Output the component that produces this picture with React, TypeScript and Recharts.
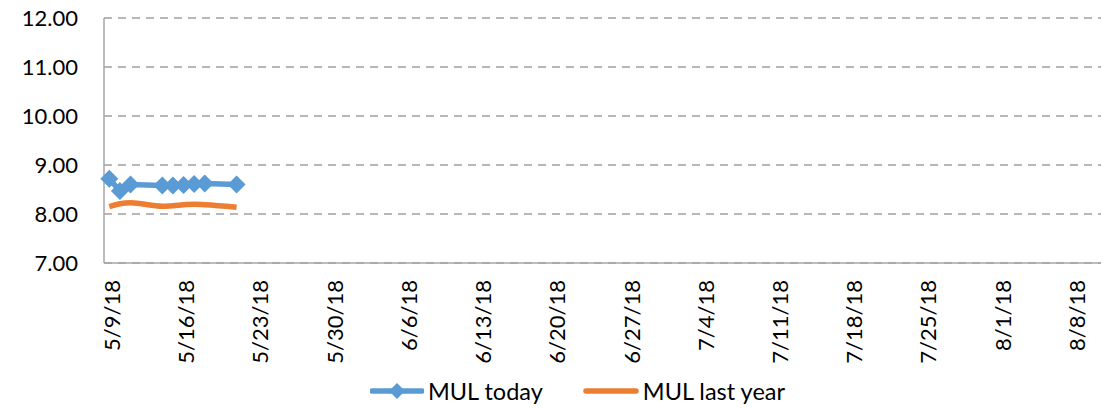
import { CartesianGrid, Legend, Line, LineChart, XAxis, YAxis } from "recharts";

const dates = ["5/9/18", "5/10/18", "5/11/18", "5/14/18", "5/15/18", "5/16/18", "5/17/18", "5/18/18", "5/21/18"];
const mulToday = [8.72, 8.47, 8.6, 8.58, 8.58, 8.59, 8.61, 8.62, 8.6];
const mulLastYear = [8.15, 8.21, 8.23, 8.16, 8.17, 8.19, 8.2, 8.19, 8.14];
const tickLabels = ["5/9/18", "5/16/18", "5/23/18", "5/30/18", "6/6/18", "6/13/18", "6/20/18", "6/27/18", "7/4/18", "7/11/18", "7/18/18", "7/25/18", "8/1/18", "8/8/18"];
const yTicks = [7, 8, 9, 10, 11, 12];

const BLUE = "#5B9BD5";
const ORANGE = "#ED7D31";
const FONT = "Lato, 'Open Sans', sans-serif";

// days since the first date, so the x axis behaves like Excel's date axis
const dayOf = (s: string) => {
  const [m, d, y] = s.split("/").map(Number);
  return Date.UTC(2000 + y, m - 1, d) / 86400000;
};
const start = dayOf(dates[0]);
const data = dates.map((d, i) => ({ day: dayOf(d) - start, today: mulToday[i], lastYear: mulLastYear[i] }));
const tickDays = tickLabels.map((l) => dayOf(l) - start);
const labelByDay: Record<number, string> = {};
tickDays.forEach((d, i) => (labelByDay[d] = tickLabels[i]));

const diamond = (cx: number, cy: number, r: number, key?: string | number) => (
  <polygon key={key} points={`${cx},${cy - r} ${cx + r},${cy} ${cx},${cy + r} ${cx - r},${cy}`} fill={BLUE} />
);

const renderDot = (p: any) => {
  if (p.cx == null || p.cy == null) return <g key={p.index} />;
  return diamond(p.cx, p.cy, 9, p.index);
};

const DateTick = ({ x, y, payload }: any) => (
  <text x={x + 2} y={y} transform={`rotate(-90 ${x + 2} ${y})`} textAnchor="end" dominantBaseline="central" fontSize={22} fontFamily={FONT} fill="#000">
    {labelByDay[payload.value]}
  </text>
);

const LegendBox = () => (
  <div style={{ display: "flex", alignItems: "center", height: 36, paddingLeft: 370, fontFamily: FONT, fontSize: 23.5, color: "#000" }}>
    <svg width={54} height={20}>
      <line x1={2} y1={10} x2={52} y2={10} stroke={BLUE} strokeWidth={5.5} strokeLinecap="round" />
      {diamond(27, 10, 8)}
    </svg>
    <span style={{ marginLeft: 4 }}>MUL today</span>
    <svg width={56} height={20} style={{ marginLeft: 40 }}>
      <line x1={3} y1={10} x2={53} y2={10} stroke={ORANGE} strokeWidth={5.5} strokeLinecap="round" />
    </svg>
    <span style={{ marginLeft: 4 }}>MUL last year</span>
  </div>
);

export default function App() {
  return (
    <div style={{ position: "absolute", left: 0, top: 0, background: "#fff" }}>
      <LineChart width={1110} height={409} data={data} margin={{ top: 18, right: 9, left: 0, bottom: 0 }}>
        <CartesianGrid vertical={false} stroke="#A0A0A0" strokeWidth={1.5} strokeDasharray="8 6" />
        <XAxis
          dataKey="day"
          type="number"
          domain={[-0.5, 93.5]}
          ticks={tickDays}
          interval={0}
          tick={<DateTick />}
          tickLine={false}
          tickSize={0}
          tickMargin={17}
          height={110}
          stroke="#A6A6A6"
          strokeWidth={1.5}
        />
        <YAxis
          domain={[7, 12]}
          ticks={yTicks}
          tickFormatter={(v: number) => v.toFixed(2)}
          width={104}
          tickLine={false}
          tickSize={0}
          tickMargin={26}
          stroke="#A6A6A6"
          strokeWidth={1.5}
          tick={{ fill: "#000", fontSize: 22, fontFamily: FONT }}
        />
        <Legend verticalAlign="bottom" content={<LegendBox />} />
        <Line dataKey="lastYear" type="monotone" stroke={ORANGE} strokeWidth={5.5} dot={false} activeDot={false} isAnimationActive={false} />
        <Line dataKey="today" type="linear" stroke={BLUE} strokeWidth={5.5} dot={renderDot} activeDot={false} isAnimationActive={false} />
      </LineChart>
    </div>
  );
}
